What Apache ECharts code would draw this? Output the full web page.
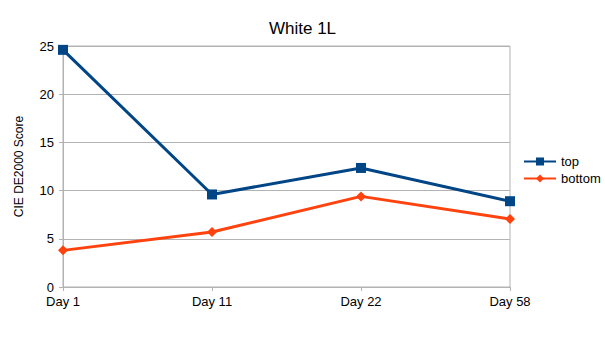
<!DOCTYPE html>
<html>
<head>
<meta charset="utf-8">
<script src="https://cdn.jsdelivr.net/npm/echarts@6/dist/echarts.min.js"></script>
<style>
  html, body { margin: 0; padding: 0; background: #fff; }
  #chart { width: 605px; height: 341px; }
</style>
</head>
<body>
<div id="chart"></div>
<script>
// White 1L — colour difference over time
var days = ['Day 1', 'Day 11', 'Day 22', 'Day 58'];
var topScores = [24.6, 9.6, 12.35, 8.9];
var bottomScores = [3.8, 5.7, 9.4, 7.05];

(function () {
  var grey = '#b3b3b3';
  var font = 'Liberation Sans, Arial, sans-serif';
  var chart = echarts.init(document.getElementById('chart'), null, { renderer: 'svg' });
  chart.setOption({
    animation: false,
    textStyle: { fontFamily: font },
    title: {
      text: 'White 1L',
      left: 'center',
      top: 15,
      textStyle: { fontFamily: font, fontSize: 17, fontWeight: 'normal', color: '#000' }
    },
    legend: {
      orient: 'vertical',
      left: 518,
      top: 150,
      itemWidth: 32,
      itemHeight: 10,
      itemGap: 4,
      textStyle: { fontFamily: font, fontSize: 13, color: '#000' },
      data: ['top', 'bottom']
    },
    grid: { left: 63, right: 95, top: 46, bottom: 54, show: true, borderColor: grey, borderWidth: 1 },
    xAxis: {
      type: 'category',
      boundaryGap: false,
      data: days,
      axisLine: { lineStyle: { color: grey } },
      axisTick: { alignWithLabel: true, length: 4, lineStyle: { color: grey } },
      axisLabel: { color: '#000', fontSize: 13, margin: 8 },
      splitLine: { show: false }
    },
    yAxis: {
      type: 'value',
      min: 0,
      max: 25,
      interval: 5,
      name: 'CIE DE2000 Score',
      nameLocation: 'middle',
      nameGap: 38,
      nameTextStyle: { color: '#000', fontSize: 12, fontFamily: font },
      axisLine: { show: true, lineStyle: { color: grey } },
      axisTick: { show: true, length: 4, lineStyle: { color: grey } },
      axisLabel: { color: '#000', fontSize: 13, margin: 9 },
      splitLine: { lineStyle: { color: grey } }
    },
    series: [
      {
        name: 'top',
        type: 'line',
        data: topScores,
        symbol: 'rect',
        symbolSize: 10,
        color: '#004586',
        lineStyle: { width: 3 }
      },
      {
        name: 'bottom',
        type: 'line',
        data: bottomScores,
        symbol: 'diamond',
        symbolSize: 10,
        color: '#ff420e',
        lineStyle: { width: 3 }
      }
    ]
  });
})();
</script>
</body>
</html>
